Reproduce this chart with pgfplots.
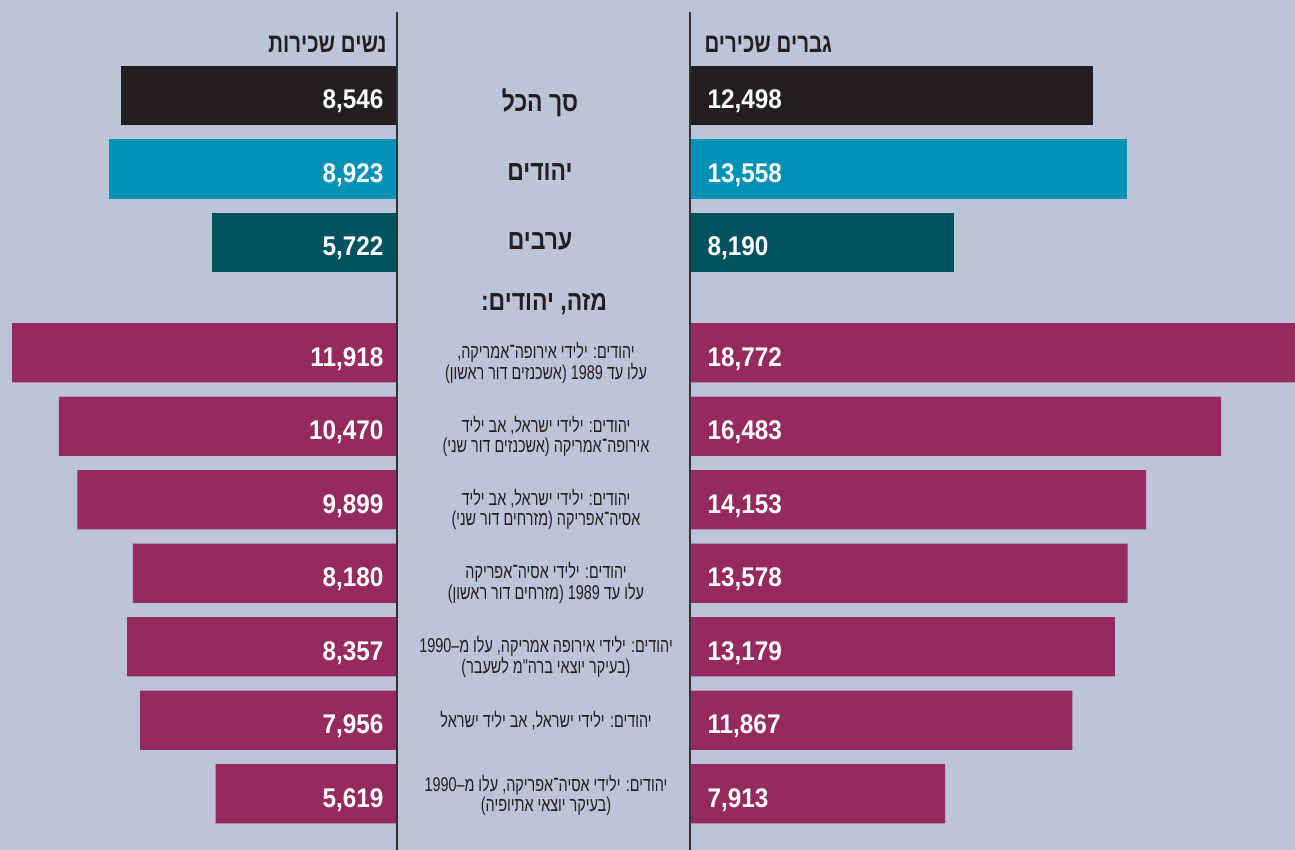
\documentclass[border=0pt]{standalone}
\usepackage{fontspec}
\usepackage{pgfplots}
\usepackage{pgfplotstable}
\pgfplotsset{compat=1.18}
\TeXXeTstate=1
\setmainfont{Liberation Sans}[FakeStretch=0.9]
\newfontfamily\heb[Script=Hebrew,FakeStretch=0.82]{Liberation Sans}
\newfontfamily\hebn[Script=Hebrew,FakeStretch=0.76]{Liberation Sans}
\newfontfamily\hebs[Script=Hebrew,FakeStretch=0.72]{Liberation Sans}
\definecolor{bg}{HTML}{BCC4D8}
\definecolor{cblack}{HTML}{231F20}
\definecolor{ccyan}{HTML}{0091B4}
\definecolor{cteal}{HTML}{00525F}
\definecolor{cmag}{HTML}{962A5F}
\definecolor{cline}{HTML}{333336}
\definecolor{ctext}{HTML}{231F20}

\pgfplotstableread{
pos val
0   8546
1   8923
2   5722
3.5 11918
4.5 10470
5.5 9899
6.5 8180
7.5 8357
8.5 7956
9.5 5619
}\women

\pgfplotstableread{
pos val
0   12498
1   13558
2   8190
3.5 18772
4.5 16483
5.5 14153
6.5 13578
7.5 13179
8.5 11867
9.5 7913
}\men

\pgfplotsset{
  panel/.style={scale only axis, height=850pt, hide axis,
    ymin=-1.2993, ymax=10.2653, y dir=reverse,
    /pgf/number format/fixed, /pgf/number format/precision=0,
    /pgf/number format/1000 sep={,},
    /pgf/number format/assume math mode=true},
  hbar/.style={xbar, bar width=0.803, bar shift=0, draw=none, fill=#1},
  vallab/.style={draw=none, mark=none, nodes near coords, point meta=explicit,
    every node near coord/.style={anchor=base #1, text=white,
      font=\bfseries\fontsize{27}{27}\selectfont, yshift=-13.5pt}},
}
\tikzset{
  sl/.style={font=\hebs\fontsize{20}{20}\selectfont, xshift=149pt, align=center, text=ctext},
  bl/.style={font=\heb\bfseries\fontsize{28}{28}\selectfont, xshift=143pt, anchor=base, text=ctext},
}

\newcommand{\HL}[1]{\beginR #1\endR}

\begin{document}
\begin{tikzpicture}[x=1pt,y=1pt]
\fill[bg] (0,0) rectangle (1295,850);

% women (left)
\begin{axis}[panel, at={(0,0)}, anchor=south west, width=397pt,
  x dir=reverse, xmin=0, xmax=12291, clip=false]
\addplot[hbar=cblack, restrict y to domain=-0.5:0.5] table[x=val,y=pos]{\women};
\addplot[hbar=ccyan, restrict y to domain=0.5:1.5] table[x=val,y=pos]{\women};
\addplot[hbar=cteal, restrict y to domain=1.5:2.5] table[x=val,y=pos]{\women};
\addplot[hbar=cmag, restrict y to domain=3:10] table[x=val,y=pos]{\women};
\addplot[vallab=east, every node near coord/.append style={xshift=-10pt}]
  table[x expr=0, y=pos, meta=val]{\women};

\node[font=\hebn\bfseries\fontsize{27}{27}\selectfont, anchor=base east, text=ctext]
  at (axis cs:0,-1.3) [xshift=-7pt, yshift=-53pt] {\HL{נשים שכירות}};
\node[bl] at (axis cs:0,0.22) {\HL{סך הכל}};
\node[bl] at (axis cs:0,1.15) {\HL{יהודים}};
\node[bl] at (axis cs:0,2.10) {\HL{ערבים}};
\node[bl, xshift=4pt] at (axis cs:0,2.93) {\HL{מזה, יהודים:}};
\node[sl, yshift=-10pt] at (axis cs:0,3.5) {\HL{יהודים: ילידי אירופה־אמריקה,}\\\HL{עלו עד 1989 (אשכנזים דור ראשון)}};
\node[sl, yshift=-10pt] at (axis cs:0,4.5) {\HL{יהודים: ילידי ישראל, אב יליד}\\\HL{אירופה־אמריקה (אשכנזים דור שני)}};
\node[sl, yshift=-10pt] at (axis cs:0,5.5) {\HL{יהודים: ילידי ישראל, אב יליד}\\\HL{אסיה־אפריקה (מזרחים דור שני)}};
\node[sl, yshift=-10pt] at (axis cs:0,6.5) {\HL{יהודים: ילידי אסיה־אפריקה}\\\HL{עלו עד 1989 (מזרחים דור ראשון)}};
\node[sl, yshift=-10pt] at (axis cs:0,7.5) {\HL{יהודים: ילידי אירופה אמריקה, עלו מ–1990}\\\HL{(בעיקר יוצאי ברה"מ לשעבר)}};
\node[sl] at (axis cs:0,8.5) {\HL{יהודים: ילידי ישראל, אב יליד ישראל}};
\node[sl, yshift=-2pt] at (axis cs:0,9.5) {\HL{יהודים: ילידי אסיה־אפריקה, עלו מ–1990}\\\HL{(בעיקר יוצאי אתיופיה)}};
\end{axis}

% men (right)
\begin{axis}[panel, at={(690pt,0)}, anchor=south west, width=605pt,
  xmin=0, xmax=18772]
\addplot[hbar=cblack, restrict y to domain=-0.5:0.5] table[x=val,y=pos]{\men};
\addplot[hbar=ccyan, restrict y to domain=0.5:1.5] table[x=val,y=pos]{\men};
\addplot[hbar=cteal, restrict y to domain=1.5:2.5] table[x=val,y=pos]{\men};
\addplot[hbar=cmag, restrict y to domain=3:10] table[x=val,y=pos]{\men};
\addplot[vallab=west, every node near coord/.append style={xshift=14pt}]
  table[x expr=0, y=pos, meta=val]{\men};
\end{axis}

\node[font=\hebn\bfseries\fontsize{27}{27}\selectfont, text=ctext, anchor=base west]
  at (701,797) {\HL{גברים שכירים}};

\draw[cline, line width=2pt] (397,0) -- (397,838);
\draw[cline, line width=2pt] (690,0) -- (690,838);

\pgfresetboundingbox
\path (0,0) rectangle (1295,850);
\end{tikzpicture}
\end{document}
